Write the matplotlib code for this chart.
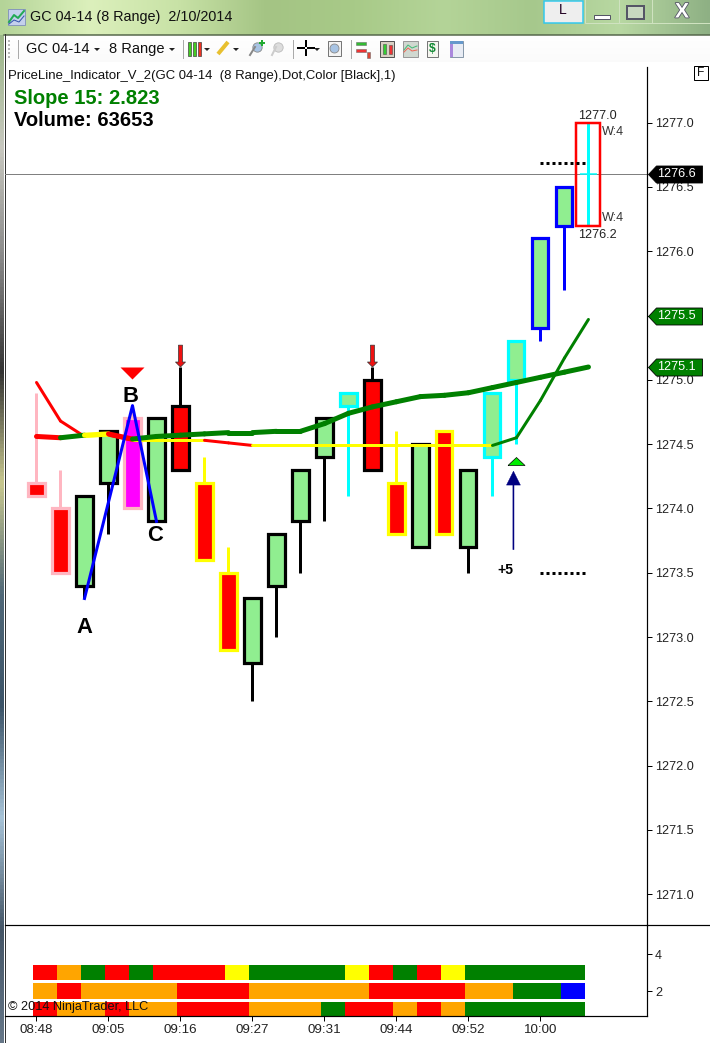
import numpy as np
import matplotlib
matplotlib.use('Agg')
import matplotlib.pyplot as plt
import matplotlib.patheffects as pe
from matplotlib.colors import LinearSegmentedColormap
from matplotlib.path import Path
from matplotlib.patches import Rectangle, Polygon

plt.rcParams['font.family'] = ['Liberation Sans', 'DejaVu Sans']

# Bars
opens = [1274.2, 1274.0, 1273.4, 1274.2, 1274.7, 1273.9, 1274.8, 1274.2, 1273.5, 1272.8, 1273.4, 1273.9,
         1274.4, 1274.8, 1275.0, 1274.2, 1273.7, 1274.6, 1273.7, 1274.4, 1275.0, 1275.4, 1276.2]
closes = [1274.1, 1273.5, 1274.1, 1274.6, 1274.0, 1274.7, 1274.3, 1273.6, 1272.9, 1273.3, 1273.8, 1274.3,
          1274.7, 1274.9, 1274.3, 1273.8, 1274.5, 1273.8, 1274.3, 1274.9, 1275.3, 1276.1, 1276.5]
highs = [1274.9, 1274.3, 1274.1, 1274.6, 1274.8, 1274.7, 1275.1, 1274.4, 1273.7, 1273.3, 1273.8, 1274.3,
         1274.7, 1274.9, 1275.1, 1274.6, 1274.5, 1274.6, 1274.3, 1274.9, 1275.3, 1276.1, 1276.5]
lows = [1274.1, 1273.5, 1273.3, 1273.8, 1274.0, 1273.9, 1274.3, 1273.6, 1272.9, 1272.5, 1273.0, 1273.5,
        1273.9, 1274.1, 1274.3, 1273.8, 1273.7, 1273.8, 1273.5, 1274.1, 1274.5, 1275.3, 1275.7]
body_colors = ['#FF0000', '#FF0000', '#90EE90', '#90EE90', '#FF00FF', '#90EE90', '#FF0000', '#FF0000',
               '#FF0000', '#90EE90', '#90EE90', '#90EE90', '#90EE90', '#90EE90', '#FF0000', '#FF0000',
               '#90EE90', '#FF0000', '#90EE90', '#90EE90', '#90EE90', '#90EE90', '#90EE90']
edge_colors = ['#FFB6C1', '#FFB6C1', 'black', 'black', '#FFB6C1', 'black', 'black', '#FFFF00',
               '#FFFF00', 'black', 'black', 'black', 'black', '#00FFFF', 'black', '#FFFF00',
               'black', '#FFFF00', 'black', '#00FFFF', '#00FFFF', '#0000FF', '#0000FF']

# Bar still forming on the right
last_high = 1277.0
last_low = 1276.2
last_close = 1276.6

# Thick moving average and thin price line, one colour per segment
ma_values = [1274.56, 1274.55, 1274.57, 1274.58, 1274.54, 1274.56, 1274.57, 1274.58, 1274.59, 1274.59, 1274.6,
             1274.6, 1274.66, 1274.74, 1274.79, 1274.83, 1274.87, 1274.88, 1274.9, 1274.94, 1274.98, 1275.02,
             1275.06, 1275.1]
ma_colors = ['#FF0000', '#008000', '#FFFF00', '#FF0000'] + ['#008000'] * 19
line_values = [1274.98, 1274.68, 1274.56, 1274.57, 1274.53, 1274.53, 1274.53, 1274.53, 1274.51, 1274.49, 1274.49,
               1274.49, 1274.49, 1274.49, 1274.49, 1274.49, 1274.49, 1274.49, 1274.49, 1274.49, 1274.55, 1274.84,
               1275.17, 1275.47]
line_colors = ['#FF0000', '#FF0000', '#FFFF00', '#FF0000', '#FFFF00', '#FFFF00', '#FFFF00', '#FF0000', '#FF0000'] \
    + ['#FFFF00'] * 10 + ['#008000'] * 4

abc_x = [2, 4, 5]
abc_y = [1273.3, 1274.8, 1273.9]
y_ticks = [1271.0, 1271.5, 1272.0, 1272.5, 1273.0, 1273.5, 1274.0, 1274.5, 1275.0, 1275.5, 1276.0, 1276.5, 1277.0]
x_ticks = [0, 3, 6, 9, 12, 15, 18, 21]
x_labels = ['08:48', '09:05', '09:16', '09:27', '09:31', '09:44', '09:52', '10:00']
tags = [(1276.6, 'black', '1276.6'), (1275.5, '#008000', '1275.5'), (1275.1, '#008000', '1275.1')]

# Lower panel strips, (colour, number of bars)
strip_top = [('#FF0000', 1), ('#FFA500', 1), ('#008000', 1), ('#FF0000', 1), ('#008000', 1), ('#FF0000', 3),
             ('#FFFF00', 1), ('#008000', 4), ('#FFFF00', 1), ('#FF0000', 1), ('#008000', 1), ('#FF0000', 1),
             ('#FFFF00', 1), ('#008000', 5)]
strip_mid = [('#FFA500', 1), ('#FF0000', 1), ('#FFA500', 4), ('#FF0000', 3), ('#FFA500', 5), ('#FF0000', 4),
             ('#FFA500', 2), ('#008000', 2), ('#0000FF', 1)]
strip_low = [('#FF0000', 1), ('#FFA500', 2), ('#FF0000', 1), ('#FFA500', 2), ('#FF0000', 3), ('#FFA500', 3),
             ('#008000', 1), ('#FF0000', 2), ('#FFA500', 1), ('#FF0000', 1), ('#FFA500', 1), ('#008000', 5)]

W, H = 710, 1043
fig = plt.figure(figsize=(W / 100, H / 100), dpi=100, facecolor='white')


def px(n):
    return n * 0.72


def axes_at(left, top, right, bottom, **kw):
    return fig.add_axes([left / W, 1 - bottom / H, (right - left) / W, (bottom - top) / H], **kw)


# Window frame, in pixels of the screenshot
bg = axes_at(0, 0, W, H, zorder=0)
bg.axis('off')
title_cmap = LinearSegmentedColormap.from_list('title', ['#b4d498', '#dcf0bc', '#c8e2a6', '#a4c484', '#a8ca88',
                                                         '#b4d498', '#a6c88c', '#b8d8a2', '#8eb084'])
bg.imshow(np.linspace(0, 1, 256).reshape(1, -1), cmap=title_cmap, extent=(0, W, 35, 0), aspect='auto')
edge_cmap = LinearSegmentedColormap.from_list('edge', ['#9cb888', '#c8c8c0', '#888888', '#333333', '#c8c890',
                                                       '#506878', '#3c5468', '#a8c4d8', '#445566', '#667788'])
bg.imshow(np.linspace(0, 1, 256).reshape(-1, 1), cmap=edge_cmap, extent=(0, 4, H, 35), aspect='auto')
bg.imshow(np.linspace(0, 1, 32).reshape(-1, 1), cmap='gray', vmin=-6, vmax=1, extent=(5, W, 62, 35), aspect='auto',
          origin='lower', alpha=0.12)
bg.set_xlim(0, W)
bg.set_ylim(H, 0)
bg.plot([4, W], [34.5, 34.5], color='#54664a', lw=px(1.5))
bg.plot([4.5, 4.5], [34, H], color='#333333', lw=px(1))

# Title bar
bg.add_patch(Rectangle((8, 9), 17, 16, fc='#c4d0ec', ec='#8899bb', lw=px(1)))
bg.plot([9, 14, 18, 24], [22, 15, 18, 11], color='#22aa55', lw=px(2))
bg.plot([9, 14, 19, 24], [24, 20, 22, 16], color='#3355aa', lw=px(1))
bg.text(30, 17, 'GC 04-14 (8 Range)  2/10/2014', fontsize=px(14.4), va='center', color='#111111')
bg.add_patch(Rectangle((544, 1), 39, 22, fc='#eeeeee', ec='#30c8ee', lw=px(1.5)))
bg.text(563, 10.5, 'L', fontsize=px(14), ha='center', va='center', color='#220022')
for x0, w in ((585, 34), (619, 33), (652, 67)):
    bg.add_patch(Rectangle((x0, -2), w, 25, fc='none', ec='#cfe2c0', lw=px(1)))
bg.add_patch(Rectangle((594, 14.5), 16, 4, fc='white', ec='#555566', lw=px(1)))
bg.add_patch(Rectangle((627, 5.5), 17, 13, fc='#c8d8c0', ec='#555566', lw=px(2)))
bg.text(682, 12, 'X', fontsize=px(21), fontweight='bold', ha='center', va='center', color='white',
        path_effects=[pe.withStroke(linewidth=1.2, foreground='#555566')])

# Toolbar
for y0 in (40, 44, 48, 52, 56):
    bg.add_patch(Rectangle((8, y0), 2, 2, fc='#b8b8b8', ec='none'))
for x0 in (17, 182, 292, 350):
    bg.plot([x0 + .5, x0 + .5], [40, 58], color='#aaaaaa', lw=px(1))
bg.text(26, 49, 'GC 04-14', fontsize=px(14.6), va='center', color='#111111')
bg.text(109, 49, '8 Range', fontsize=px(14.6), va='center', color='#111111')
for x0 in (97, 172, 207, 236, 317):
    bg.add_patch(Polygon([(x0 - 3, 48), (x0 + 3, 48), (x0, 51)], fc='#222222', ec='none'))
for x0, c in ((189, '#44cc22'), (194, '#44cc22'), (199, '#ee3322')):
    bg.add_patch(Rectangle((x0 - 1.5, 42), 3.5, 14, fc=c, ec='#444444', lw=px(.7)))
bg.plot([218, 228], [54, 42], color='#e8c030', lw=px(4), solid_capstyle='butt')
bg.plot([255, 250], [47, 55], color='#888888', lw=px(2))
bg.scatter([257], [47], s=45, color='#a8c4e4', edgecolor='#888888', lw=.6)
bg.plot([260, 264], [43, 43], color='#22aa33', lw=px(2))
bg.plot([262, 262], [41, 45], color='#22aa33', lw=px(2))
bg.plot([276, 272], [47, 55], color='#cccccc', lw=px(2))
bg.scatter([278], [47], s=45, color='#dddddd', edgecolor='#bbbbbb', lw=.6)
bg.plot([298, 304], [48, 48], color='black', lw=px(2))
bg.plot([308, 314], [48, 48], color='black', lw=px(2))
bg.plot([306, 306], [41, 46], color='black', lw=px(2))
bg.plot([306, 306], [50, 55], color='black', lw=px(2))
bg.add_patch(Rectangle((328, 41), 13, 15, fc='#f4f4f4', ec='#777777', lw=px(1)))
bg.scatter([334], [48], s=42, color='#a8c4e4', edgecolor='#888888', lw=.6)
bg.add_patch(Rectangle((356, 42), 10, 3, fc='#33bb33', ec='#666666', lw=px(.5)))
bg.add_patch(Rectangle((356, 49), 10, 3, fc='#ee3333', ec='#666666', lw=px(.5)))
bg.add_patch(Rectangle((367, 52), 3, 6, fc='#dd4433', ec='#666666', lw=px(.5)))
bg.add_patch(Rectangle((380, 41), 14, 16, fc='#d8d0c4', ec='#555555', lw=px(1)))
bg.add_patch(Rectangle((383, 44), 3, 10, fc='#33cc33', ec='#444444', lw=px(.5)))
bg.add_patch(Rectangle((389, 45), 3, 9, fc='#ee3333', ec='#444444', lw=px(.5)))
bg.add_patch(Rectangle((403, 41), 15, 16, fc='#d0d8d0', ec='#999999', lw=px(1)))
bg.plot([404, 408, 412, 417], [50, 45, 48, 46], color='#44bb77', lw=px(1))
bg.plot([404, 408, 412, 417], [52, 48, 51, 50], color='#ee6655', lw=px(1))
bg.add_patch(Rectangle((427, 41), 11, 16, fc='#f6f6f0', ec='#777777', lw=px(1)))
bg.text(432.5, 49.5, '$', fontsize=px(12), fontweight='bold', color='#118833', ha='center', va='center',
        parse_math=False)
bg.add_patch(Rectangle((450, 41), 13, 16, fc='#e8ecf4', ec='#8899aa', lw=px(1)))
bg.add_patch(Rectangle((450, 41), 13, 3, fc='#6699cc', ec='none'))
bg.add_patch(Rectangle((450, 44), 3, 13, fc='#aa88dd', ec='none'))

# Price panel
ax = axes_at(5, 67, 647, 925, zorder=2)
ax.set_facecolor('none')
ax.set_xlim(-1.3125, 25.44)
ax.set_ylim(1270.761, 1277.433)
idx = np.arange(len(opens))

ax.axhline(last_close, color='#808080', lw=px(1), zorder=1)
ax.vlines(idx, lows, highs, colors=edge_colors, lw=px(3), zorder=2)
ax.bar(idx, np.array(closes) - np.array(opens), bottom=opens, width=0.67, color=body_colors,
       edgecolor=edge_colors, linewidth=px(3.2), zorder=3)

ax.vlines(23, last_low, last_high, colors='#00FFFF', lw=px(3), zorder=2)
ax.hlines(last_close, 22.63, 23.37, colors='#00FFFF', lw=px(1.5), zorder=2)
ax.bar(23, last_high - last_low, bottom=last_low, width=1.0, color='none', edgecolor='#FF0000',
       linewidth=px(2.5), zorder=4)

for i, c in enumerate(line_colors):
    ax.plot(np.arange(i, i + 2), line_values[i:i + 2], color=c, lw=px(3), solid_capstyle='round', zorder=5)
for i, c in enumerate(ma_colors):
    ax.plot(np.arange(i, i + 2), ma_values[i:i + 2], color=c, lw=px(5), solid_capstyle='round', zorder=6)
ax.plot(abc_x, abc_y, color='#0000FF', lw=px(3), zorder=7)

for x0, y0, s in ((2, 1273.155, 'A'), (3.92, 1274.95, 'B'), (4.94, 1273.87, 'C')):
    ax.text(x0, y0, s, fontsize=px(22), fontweight='bold', color='black', ha='center', va='top', zorder=8)

tri_down = Path([(-1, .5), (1, .5), (0, -.5), (-1, .5)])
tri_up = Path([(-1, -.47), (1, -.47), (0, .47), (-1, -.47)])
ax.plot(4, 1275.05, marker=tri_down, ms=px(24), color='#FF0000', mew=0, zorder=8)
ax.plot(20, 1274.37, marker=tri_up, ms=px(17), mfc='#00EE00', mec='black', mew=.5, zorder=8)

for x0 in (6, 14):
    ax.annotate('', xy=(x0, 1275.1), xytext=(x0, 1275.27),
                arrowprops=dict(arrowstyle='simple,head_length=.45,head_width=.9,tail_width=.36', mutation_scale=8,
                                fc='#EE1111', ec='#333333', lw=.5, shrinkA=0, shrinkB=0), zorder=8)
ax.annotate('', xy=(19.875, 1274.29), xytext=(19.875, 1273.68),
            arrowprops=dict(arrowstyle='simple,head_length=1.0,head_width=1.0,tail_width=.08', mutation_scale=10,
                            fc='#000080', ec='#000080', lw=.3, shrinkA=0, shrinkB=0), zorder=8)
ax.text(19.54, 1273.52, '+5', fontsize=px(14), fontweight='bold', ha='center', va='center', color='black')

for y0 in (1276.69, 1273.5):
    ax.plot([21, 23], [y0, y0], color='black', lw=px(3), linestyle=(0, (1, 1)), dash_capstyle='butt', zorder=5)

ax.text(22.58, 1277.05, '1277.0', fontsize=px(12.6), va='center', color='#222222', zorder=8)
ax.text(23.56, 1276.925, 'W:4', fontsize=px(12.6), va='center', color='#333333', zorder=8)
ax.text(23.56, 1276.255, 'W:4', fontsize=px(12.6), va='center', color='#333333', zorder=8)
ax.text(22.58, 1276.13, '1276.2', fontsize=px(12.6), va='center', color='#222222', zorder=8)

bg.text(8, 76, 'PriceLine_Indicator_V_2(GC 04-14  (8 Range),Dot,Color [Black],1)', fontsize=px(13.15),
        va='center', color='#111111')
bg.text(14, 99, 'Slope 15: 2.823', fontsize=px(20.1), fontweight='bold', va='center', color='#008000')
bg.text(14, 121, 'Volume: 63653', fontsize=px(20.1), fontweight='bold', va='center', color='black')

ax.yaxis.tick_right()
ax.set_yticks(y_ticks)
ax.set_yticklabels([f'{v:.1f}' for v in y_ticks], fontsize=px(12.6), color='#222222')
ax.tick_params(axis='y', length=px(5), width=px(1), pad=px(3))
ax.set_xticks([])
for side in ('top', 'left'):
    ax.spines[side].set_visible(False)
ax.spines['right'].set_linewidth(px(1.2))
ax.spines['bottom'].set_linewidth(px(1.2))

# Price tags on the axis
tag_path = Path([(0, 0), (8, 8.5), (54, 8.5), (54, -8.5), (8, -8.5), (0, 0)])
for price, c, s in tags:
    ax.plot(1.0015, price, marker=tag_path, ms=px(108), mfc=c, mec='black', mew=.6, clip_on=False,
            transform=ax.get_yaxis_transform(), zorder=9)
    ax.text(1.0155, price, s, fontsize=px(12.6), color='white', va='center', clip_on=False,
            transform=ax.get_yaxis_transform(), zorder=10)

bg.add_patch(Rectangle((693.5, 65.5), 14, 14, fc='white', ec='black', lw=px(1)))
bg.text(700.5, 72.5, 'F', fontsize=px(12), ha='center', va='center', color='#111111')
bg.plot([647, W], [925, 925], color='black', lw=px(1.2))

# Lower panel
low = axes_at(5, 925, 647, 1016, zorder=2)
low.set_facecolor('none')
low.set_xlim(-1.3125, 25.44)
low.set_ylim(0.65, 5.57)
for row, strip in ((3, strip_top), (2, strip_mid), (1, strip_low)):
    start = 0
    for c, n in strip:
        low.barh(row, n, left=start - 0.146, height=0.84, color=c, linewidth=0)
        start += n
low.yaxis.tick_right()
low.set_yticks([2, 4])
low.set_yticklabels(['2', '4'], fontsize=px(12.6), color='#222222')
low.set_xticks(x_ticks)
low.set_xticklabels(x_labels, fontsize=px(13.4), color='#222222')
low.tick_params(axis='y', length=px(5), width=px(1), pad=px(3))
low.tick_params(axis='x', length=px(5), width=px(1), pad=px(3))
for side in ('top', 'left'):
    low.spines[side].set_visible(False)
low.spines['right'].set_linewidth(px(1.2))
low.spines['bottom'].set_linewidth(px(1.2))
low.text(0.005, 0.098, '\u00a9 2014 NinjaTrader, LLC', transform=low.transAxes, fontsize=px(12.8),
         va='center', color='#111111', zorder=9)

fig.savefig('out.png', dpi=100)
